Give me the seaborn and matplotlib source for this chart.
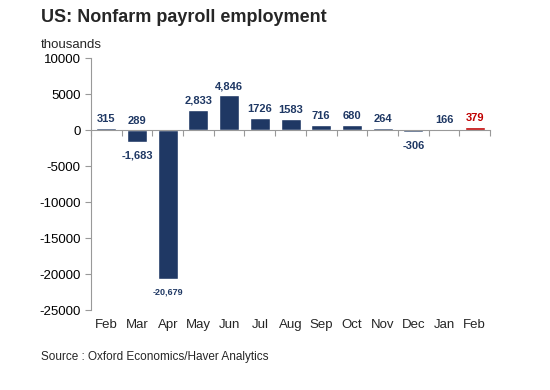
import matplotlib
matplotlib.use('Agg')
import matplotlib.pyplot as plt
import matplotlib.transforms as mtransforms
import seaborn as sns

# ========= Data =========
months = ['Feb', 'Mar', 'Apr', 'May', 'Jun', 'Jul', 'Aug', 'Sep', 'Oct', 'Nov', 'Dec', 'Jan', 'Feb']
payrolls = [315, -1683, -20679, 2833, 4846, 1726, 1583, 716, 680, 264, -306, 166, 379]
bar_labels = ['315', '-1,683', '-20,679', '2,833', '4,846', '1726', '1583', '716', '680', '264', '-306', '166', '379']
yticks = [10000, 5000, 0, -5000, -10000, -15000, -20000, -25000]

navy = '#1f3864'
red = '#c00000'
colors = [navy] * (len(months) - 1) + [red]

# ========= Plot =========
sns.set_style('ticks')
plt.rcParams['font.family'] = ['Liberation Sans', 'DejaVu Sans']

fig = plt.figure(figsize=(5.5, 3.9), dpi=100)
ax = fig.add_axes([0.1655, 0.205, 0.7255, 0.646])

pos = list(range(len(months)))
sns.barplot(x=pos, y=payrolls, hue=pos, palette=colors, legend=False,
            width=0.65, saturation=1, ax=ax)

# value labels on each bar, negatives sit a bit further below
for i, cont in enumerate(ax.containers):
    size = 6.5 if i == 2 else 8
    pad = 6 if payrolls[i] < 0 else 3
    ax.bar_label(cont, labels=[bar_labels[i]], padding=pad, fontsize=size,
                 fontweight='bold', color=colors[i])
# the stray "289" label that sits above March in the original
ax.annotate('289', (1, 0), xytext=(0, 3), textcoords='offset points',
            ha='center', va='bottom', fontsize=8, fontweight='bold', color=navy)

ax.set_ylim(-25000, 10000)
ax.set_yticks(yticks)
ax.set_yticklabels([str(t) for t in yticks], fontsize=9.5)
ax.set_xlim(-0.5, len(months) - 0.5)

# zero line acts as the x axis, month names sit at the bottom
for s in ['top', 'right']:
    ax.spines[s].set_visible(False)
ax.spines['bottom'].set_position(('data', 0))
ax.spines['bottom'].set_color('#999999')
ax.spines['left'].set_color('#999999')
ax.tick_params(axis='y', colors='#999999', labelcolor='black', length=4, width=0.8)
ax.set_xticks(pos)
ax.set_xticklabels([])
ax.tick_params(axis='x', which='major', length=0)
ax.set_xticks([p + 0.5 for p in pos[:-1]] + [-0.5, len(months) - 0.5], minor=True)
ax.tick_params(axis='x', which='minor', length=4, width=0.8, color='#999999', direction='out')

trans = mtransforms.blended_transform_factory(ax.transData, ax.transAxes)
for p, m in zip(pos, months):
    ax.text(p, -0.035, m, transform=trans, ha='center', va='top', fontsize=9.5)

ax.set_xlabel('')
ax.set_ylabel('')

fig.text(0.075, 0.955, 'US: Nonfarm payroll employment', fontsize=13, fontweight='bold',
         ha='left', va='center')
fig.text(0.075, 0.885, 'thousands', fontsize=9.5, ha='left', va='center')
fig.text(0.075, 0.085, 'Source : Oxford Economics/Haver Analytics', fontsize=8.5,
         ha='left', va='center')

fig.savefig('out.png', dpi=100, facecolor='white')
